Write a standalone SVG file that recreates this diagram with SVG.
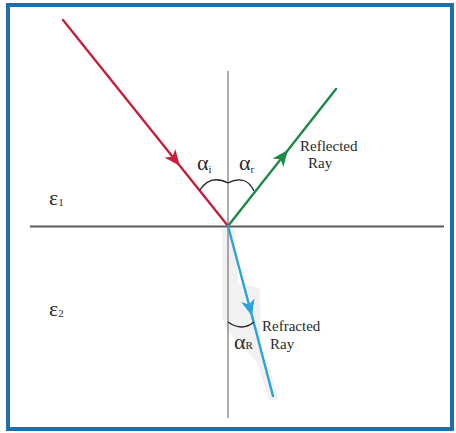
<svg xmlns="http://www.w3.org/2000/svg" width="456" height="433" viewBox="0 0 456 433">
<style>
.ray{fill:none;stroke-width:2.4;stroke-linecap:round}
.axis{stroke:#5a5a5a;fill:none}
.arc{fill:none;stroke:#222;stroke-width:1.3}
.lbl{font-family:"Liberation Serif","Times New Roman",serif;fill:#2a2a2a;font-size:15px}
.sym{font-family:"Liberation Serif","Times New Roman",serif;fill:#2a2a2a;font-size:22px}
.sub{font-size:11px}
</style>
<defs>
<marker id="ah-red" markerUnits="userSpaceOnUse" markerWidth="20" markerHeight="20" viewBox="-14 -7 16 14" refX="0" refY="0" orient="auto"><path d="M0,0 L-13,-5.5 L-9.5,0 L-13,5.5 Z" fill="#c8203c"/></marker>
<marker id="ah-green" markerUnits="userSpaceOnUse" markerWidth="20" markerHeight="20" viewBox="-14 -7 16 14" refX="0" refY="0" orient="auto"><path d="M0,0 L-13,-5.5 L-9.5,0 L-13,5.5 Z" fill="#1d8a47"/></marker>
<marker id="ah-blue" markerUnits="userSpaceOnUse" markerWidth="20" markerHeight="20" viewBox="-14 -7 16 14" refX="0" refY="0" orient="auto"><path d="M0,0 L-13,-5.5 L-9.5,0 L-13,5.5 Z" fill="#2aa3d9"/></marker>
</defs>
<rect x="0" y="0" width="456" height="433" fill="#fff"/>
<rect x="8" y="5" width="444" height="424" fill="#fff" stroke="#1f6ea6" stroke-width="4"/>
<g id="shade"><path d="M222,229 L235,229 L238,284 L260,288 L261,356 L268,362 L278,400 L269,400 L257,362 L229,332 L222,318 Z" fill="#f1f1f1"/></g>
<g id="interface"><line class="axis" x1="30" y1="226.5" x2="444" y2="226.5" stroke-width="2.2"/></g>
<g id="normal"><line class="axis" x1="228" y1="71" x2="228" y2="418" stroke-width="1"/></g>
<g id="connectors">
<path id="incident" class="ray" stroke="#c8203c" d="M63,20 L180,166 L228,226" marker-mid="url(#ah-red)"/>
<path id="reflected" class="ray" stroke="#1d8a47" d="M228,226 L288,150 L336,89" marker-mid="url(#ah-green)"/>
<path id="refracted" class="ray" stroke="#2aa3d9" d="M228,226 L252,316 L273,396" marker-mid="url(#ah-blue)"/>
</g>
<g id="angles">
<path class="arc" d="M200,190 Q210,174 228,183"/>
<path class="arc" d="M228,183 Q246,174 254,191"/>
<path class="arc" d="M228,322 Q242,332 254,322"/>
</g>
<g id="alpha-i"><text class="sym" x="197" y="170">α<tspan class="sub" dy="3">i</tspan></text></g>
<g id="alpha-r"><text class="sym" x="239" y="170">α<tspan class="sub" dy="3">r</tspan></text></g>
<g id="alpha-R"><text class="sym" x="234" y="349">α<tspan class="sub" dy="0">R</tspan></text></g>
<g id="eps1"><text class="sym" x="49" y="205">ε<tspan class="sub" dy="1">1</tspan></text></g>
<g id="eps2"><text class="sym" x="49" y="316">ε<tspan class="sub" dy="1">2</tspan></text></g>
<g id="reflected-label"><text class="lbl" x="300" y="151">Reflected</text><text class="lbl" x="308" y="168">Ray</text></g>
<g id="refracted-label"><text class="lbl" x="262" y="331">Refracted</text><text class="lbl" x="270" y="349">Ray</text></g>
</svg>
